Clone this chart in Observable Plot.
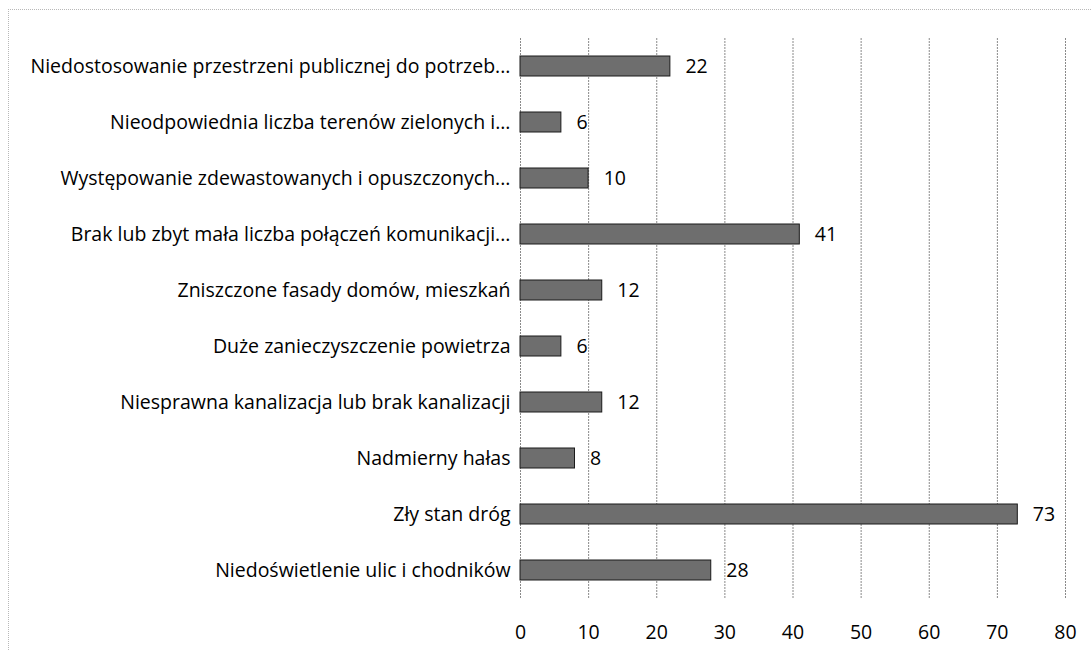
<!DOCTYPE html>
<html>
<head>
<meta charset="utf-8">
<script src="https://cdn.jsdelivr.net/npm/d3@7"></script>
<script src="https://cdn.jsdelivr.net/npm/@observablehq/plot@0.6"></script>
<style>
  html, body { margin: 0; padding: 0; background: #fff; }
  #wrap { position: relative; width: 1091px; height: 651px; overflow: hidden; }
  #border { position: absolute; left: 8px; top: 9px; width: 1090px; height: 700px;
            border-top: 1px dotted #b8b8b8; border-left: 1px dotted #b8b8b8; pointer-events: none; }
  svg { font-family: "Open Sans", sans-serif; }
</style>
</head>
<body>
<div id="wrap"><div id="border"></div></div>
<script>
const categories = [
  "Niedostosowanie przestrzeni publicznej do potrzeb...",
  "Nieodpowiednia liczba terenów zielonych i...",
  "Występowanie zdewastowanych i opuszczonych...",
  "Brak lub zbyt mała liczba połączeń komunikacji...",
  "Zniszczone fasady domów, mieszkań",
  "Duże zanieczyszczenie powietrza",
  "Niesprawna kanalizacja lub brak kanalizacji",
  "Nadmierny hałas",
  "Zły stan dróg",
  "Niedoświetlenie ulic i chodników"
];
const values = [22, 6, 10, 41, 12, 6, 12, 8, 73, 28];
const xTicks = [0, 10, 20, 30, 40, 50, 60, 70, 80];

const data = categories.map((c, i) => ({category: c, value: values[i]}));

const chart = Plot.plot({
  width: 1091,
  height: 651,
  marginLeft: 520,
  marginRight: 26,
  marginTop: 38,
  marginBottom: 52,
  style: {fontFamily: "Open Sans, sans-serif", fontSize: "19.5px", color: "#000", background: "transparent"},
  x: {domain: [0, 80], ticks: xTicks, tickSize: 0, tickPadding: 26, label: null},
  y: {domain: categories, paddingInner: 0.64, paddingOuter: 0.32, tickSize: 0, tickPadding: 10, label: null},
  marks: [
    Plot.ruleX(xTicks, {stroke: "#8a8a8a", strokeWidth: 1, strokeDasharray: "2,1"}),
    Plot.barX(data, {x: "value", y: "category", fill: "#6e6e6e", stroke: "#1a1a1a", strokeWidth: 1}),
    Plot.text(data, {x: "value", y: "category", text: d => String(d.value), textAnchor: "start", dx: 15, fontSize: 19.5, fill: "#000"})
  ]
});
document.getElementById("wrap").prepend(chart);
</script>
</body>
</html>
